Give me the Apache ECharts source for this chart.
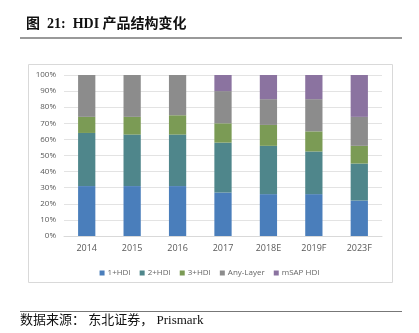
<!DOCTYPE html>
<html>
<head>
<meta charset="utf-8">
<script src="https://cdn.jsdelivr.net/npm/echarts@6/dist/echarts.min.js"></script>
<style>
  html, body { margin: 0; padding: 0; background: #fff; }
  #chart { width: 419px; height: 333px; }
</style>
</head>
<body>
<div id="chart"></div>
<script>
// Categories (years) and share of each HDI type, in percent
const years = ['2014', '2015', '2016', '2017', '2018E', '2019F', '2023F'];
const hdi1 = [31, 31, 31, 27, 26, 26, 22];
const hdi2 = [33, 32, 32, 31, 30, 26.5, 23];
const hdi3 = [10, 11, 12, 12, 13, 12.5, 11];
const anyLayer = [26, 26, 25, 20, 16, 20, 18];
const msap = [0, 0, 0, 10, 15, 15, 26];

const seriesNames = ['1+HDI', '2+HDI', '3+HDI', 'Any-Layer', 'mSAP HDI'];
const seriesData = [hdi1, hdi2, hdi3, anyLayer, msap];
const colors = ['#4a7ebb', '#4f868b', '#7b9b55', '#8c8c8c', '#8b73a0'];

const chart = echarts.init(document.getElementById('chart'), null, { renderer: 'canvas' });

chart.setOption({
  animation: false,
  color: colors,
  title: {
    text: '图  21:  HDI 产品结构变化',
    left: 21,
    top: 12,
    textStyle: {
      fontFamily: '"Liberation Serif", "Noto Sans CJK SC", serif',
      fontWeight: 'bold',
      fontSize: 14,
      color: '#111'
    }
  },
  graphic: [
    { type: 'line', shape: { x1: 20, y1: 38, x2: 402, y2: 38 }, style: { stroke: '#777', lineWidth: 1.5 } },
    { type: 'rect', shape: { x: 28.5, y: 64.5, width: 364, height: 218 }, style: { fill: 'none', stroke: '#d9d9d9', lineWidth: 1 }, z: -1 },
    { type: 'line', shape: { x1: 20, y1: 311.5, x2: 402, y2: 311.5 }, style: { stroke: '#777', lineWidth: 1 } },
    {
      type: 'text', left: 20, top: 314,
      style: {
        text: '数据来源： 东北证券， Prismark',
        font: '13px "Liberation Serif", "Noto Sans CJK SC", serif',
        fill: '#111'
      }
    }
  ],
  legend: {
    data: seriesNames,
    top: 264,
    left: 'center',
    itemWidth: 5,
    itemHeight: 5,
    itemGap: 9,
    icon: 'rect',
    textStyle: { fontSize: 8, color: '#666', fontFamily: '"Open Sans", Arial, sans-serif', padding: [0, 0, 0, -2] }
  },
  grid: { left: 64, right: 37, top: 75, bottom: 97, containLabel: false },
  xAxis: {
    type: 'category',
    data: years,
    axisLine: { lineStyle: { color: '#d9d9d9' } },
    axisTick: { show: false },
    axisLabel: { fontSize: 9, color: '#595959', margin: 8, fontFamily: '"Open Sans", Arial, sans-serif' }
  },
  yAxis: {
    type: 'value',
    min: 0,
    max: 100,
    interval: 10,
    axisLine: { show: false },
    axisTick: { show: false },
    splitLine: { lineStyle: { color: '#e3e3e3' } },
    axisLabel: { fontSize: 8, color: '#595959', margin: 8, formatter: '{value}%', fontFamily: '"Open Sans", Arial, sans-serif' }
  },
  series: seriesData.map((d, i) => ({
    name: seriesNames[i],
    type: 'bar',
    stack: 'total',
    barWidth: '38%',
    data: d
  }))
});
</script>
</body>
</html>
